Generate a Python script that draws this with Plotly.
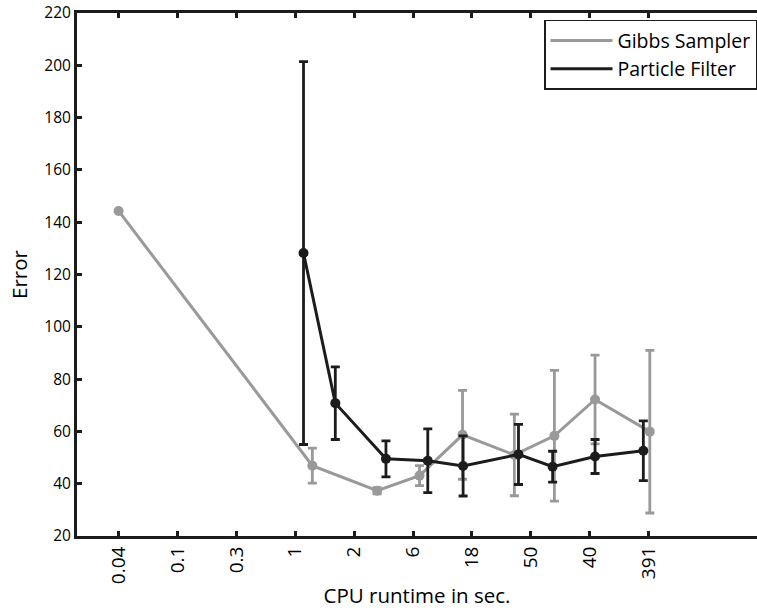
import plotly.graph_objects as go

# Runtime tick labels (equally spaced positions along the x axis)
tick_pos = [1, 2, 3, 4, 5, 6, 7, 8, 9, 10]
tick_labels = ["0.04", "0.1", "0.3", "1", "2", "6", "18", "50", "40", "391"]

# Gibbs Sampler: position on the runtime axis, mean error, error-bar half width
gibbs_x = [1.0, 4.29, 5.39, 6.11, 6.84, 7.72, 8.40, 9.09, 10.02]
gibbs_err = [144.3, 46.9, 37.3, 43.1, 58.7, 51.0, 58.3, 72.2, 59.9]
gibbs_sd = [0.0, 6.7, 1.2, 3.8, 17.0, 15.6, 25.0, 17.0, 31.1]

# Particle Filter
pf_x = [4.14, 4.68, 5.54, 6.25, 6.85, 7.79, 8.37, 9.09, 9.91]
pf_err = [128.2, 70.8, 49.5, 48.8, 46.8, 51.2, 46.5, 50.4, 52.6]
pf_sd = [73.2, 13.9, 6.9, 12.2, 11.5, 11.5, 5.9, 6.5, 11.4]

GREY = "#999999"
BLACK = "#1c1c1c"
FONT = "Open Sans"

fig = go.Figure()

series = [
    ("Gibbs Sampler", gibbs_x, gibbs_err, gibbs_sd, GREY),
    ("Particle Filter", pf_x, pf_err, pf_sd, BLACK),
]

for name, xs, ys, sd, col in series:
    # data with markers and error bars
    fig.add_trace(go.Scatter(
        x=xs, y=ys, name=name, mode="lines+markers", showlegend=False,
        line=dict(color=col, width=3),
        marker=dict(color=col, size=10),
        error_y=dict(type="data", array=sd, visible=True,
                     color=col, thickness=2.8, width=4.5),
    ))

for name, xs, ys, sd, col in series:
    # line-only legend entry
    fig.add_trace(go.Scatter(
        x=[None], y=[None], name=name, mode="lines",
        line=dict(color=col, width=3),
    ))

fig.update_layout(
    width=757, height=612,
    margin=dict(l=77, r=0, t=13, b=76),
    paper_bgcolor="white", plot_bgcolor="white",
    font=dict(family=FONT, size=15, color="black"),
    showlegend=True,
    legend=dict(
        x=1, xanchor="right", y=0.987, yanchor="top",
        bgcolor="white", bordercolor=BLACK, borderwidth=1.5,
        font=dict(family=FONT, size=19.5, color="black"),
        itemwidth=62, tracegroupgap=0,
    ),
)

fig.update_xaxes(
    range=[0.294, 11.84],
    tickmode="array", tickvals=tick_pos, ticktext=tick_labels,
    tickangle=-90, ticks="inside", ticklen=5, tickwidth=2.5, tickcolor=BLACK,
    showline=True, linecolor=BLACK, linewidth=3, mirror="ticks",
    showgrid=False, zeroline=False,
    tickfont=dict(family=FONT, size=19),
    title=dict(text="CPU runtime in sec.", font=dict(family=FONT, size=20.5), standoff=6),
)

fig.update_yaxes(
    range=[20, 220], tickmode="linear", tick0=20, dtick=20,
    ticks="inside", ticklen=5, tickwidth=2.5, tickcolor=BLACK,
    showline=True, linecolor=BLACK, linewidth=3, mirror=False,
    showgrid=False, zeroline=False,
    tickfont=dict(family=FONT, size=15.5),
    title=dict(text="Error", font=dict(family=FONT, size=20.5), standoff=12),
)

fig.write_html("out.html")
